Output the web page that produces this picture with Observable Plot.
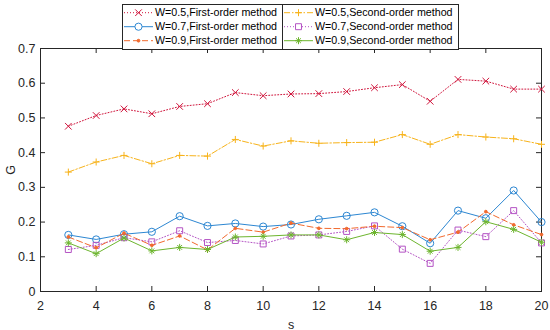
<!DOCTYPE html>
<html>
<head>
<meta charset="utf-8">
<script src="https://cdn.jsdelivr.net/npm/d3@7"></script>
<script src="https://cdn.jsdelivr.net/npm/@observablehq/plot@0.6"></script>
<style>
  body { margin: 0; background: #fff; }
  #wrap { position: relative; width: 550px; height: 330px; font-family: Arial, "Liberation Sans", sans-serif; }
  #legend { position: absolute; left: 122px; top: 4px; }
</style>
</head>
<body>
<div id="wrap"></div>
<script>
// ---- data ----
const sValues = [3, 4, 5, 6, 7, 8, 9, 10, 11, 12, 13, 14, 15, 16, 17, 18, 19, 20];
const w05First  = [0.476, 0.507, 0.526, 0.512, 0.533, 0.541, 0.573, 0.564, 0.569, 0.570, 0.576, 0.587, 0.596, 0.548, 0.611, 0.606, 0.583, 0.583];
const w05Second = [0.344, 0.373, 0.392, 0.368, 0.392, 0.390, 0.438, 0.419, 0.434, 0.427, 0.429, 0.430, 0.452, 0.424, 0.452, 0.445, 0.440, 0.424];
const w07First  = [0.163, 0.150, 0.165, 0.172, 0.217, 0.189, 0.196, 0.187, 0.193, 0.208, 0.218, 0.228, 0.188, 0.139, 0.233, 0.211, 0.291, 0.200];
const w07Second = [0.121, 0.133, 0.155, 0.143, 0.175, 0.141, 0.147, 0.137, 0.160, 0.163, 0.173, 0.189, 0.122, 0.081, 0.177, 0.158, 0.233, 0.140];
const w09First  = [0.157, 0.126, 0.168, 0.133, 0.160, 0.120, 0.182, 0.171, 0.197, 0.182, 0.181, 0.188, 0.184, 0.149, 0.171, 0.230, 0.192, 0.164];
const w09Second = [0.140, 0.109, 0.154, 0.117, 0.127, 0.121, 0.157, 0.159, 0.163, 0.163, 0.149, 0.170, 0.164, 0.116, 0.127, 0.201, 0.179, 0.142];
const seriesNames = [
  "W=0.5,First-order method", "W=0.5,Second-order method",
  "W=0.7,First-order method", "W=0.7,Second-order method",
  "W=0.9,First-order method", "W=0.9,Second-order method"
];
const seriesValues = [w05First, w05Second, w07First, w07Second, w09First, w09Second];
const xTicks = [2, 4, 6, 8, 10, 12, 14, 16, 18, 20];
const yTicks = [0, 0.1, 0.2, 0.3, 0.4, 0.5, 0.6, 0.7];

// ---- styles ----
const styles = [
  {color: "#D0153C", dash: "1,2",       marks: [{symbol: "times", r: 3.1}]},
  {color: "#F7B31B", dash: "6,2,1.5,2", marks: [{symbol: "plus", r: 2.4}]},
  {color: "#2D87D2", dash: null,        marks: [{symbol: "circle", r: 3.6}]},
  {color: "#B453C4", dash: "1,2",       marks: [{symbol: "square2", r: 3.8}]},
  {color: "#F26A2E", dash: "6,3",       marks: [{symbol: "circle", r: 1.4, fill: true}]},
  {color: "#6DB52E", dash: null,        marks: [{symbol: "plus", r: 2.4}, {symbol: "times", r: 2.3}]}
];

const table = seriesNames.flatMap((name, i) =>
  sValues.map((s, j) => ({series: name, idx: i, s, G: seriesValues[i][j]})));

const W = 550, H = 330, mL = 40, mR = 9, mT = 48, mB = 39;
const plotW = W - mL - mR, plotH = H - mT - mB, tick = 5;
const axisColor = "#262626";

const marks = [];
seriesNames.forEach((name, i) => {
  const st = styles[i];
  const d = table.filter(r => r.idx === i);
  marks.push(Plot.line(d, {x: "s", y: "G", stroke: st.color, strokeWidth: 1, strokeDasharray: st.dash}));
  st.marks.forEach(m => {
    marks.push(Plot.dot(d, {x: "s", y: "G", symbol: m.symbol, r: m.r, stroke: st.color,
      fill: m.fill ? st.color : "none", strokeWidth: 1}));
  });
});

const chart = Plot.plot({
  width: W, height: H,
  marginLeft: mL, marginRight: mR, marginTop: mT, marginBottom: mB,
  style: {fontFamily: "Arial, 'Liberation Sans', sans-serif", color: axisColor, background: "#fff"},
  x: {domain: [2, 20]},
  y: {domain: [0, 0.7]},
  marks: [
    Plot.frame({stroke: axisColor, strokeWidth: 1}),
    // inward tick marks on all four sides
    Plot.ruleX(xTicks, {x: d => d, insetTop: plotH - tick, stroke: axisColor}),
    Plot.ruleX(xTicks, {x: d => d, insetBottom: plotH - tick, stroke: axisColor}),
    Plot.ruleY(yTicks, {y: d => d, insetRight: plotW - tick, stroke: axisColor}),
    Plot.ruleY(yTicks, {y: d => d, insetLeft: plotW - tick, stroke: axisColor}),
    Plot.axisX({ticks: xTicks, tickSize: 0, tickPadding: 10, fontSize: 12.5,
      label: "s", labelArrow: "none", labelAnchor: "center", labelOffset: 37, fill: axisColor}),
    Plot.axisY({ticks: yTicks, tickSize: 0, tickPadding: 5, fontSize: 12.5,
      tickFormat: d => String(+d.toFixed(2)),
      label: "G", labelArrow: "none", labelAnchor: "center", labelOffset: 34, fill: axisColor}),
    ...marks
  ]
});
document.getElementById("wrap").appendChild(chart);

// ---- legend (HTML overlay, MATLAB-like box) ----
const lw = 337, lh = 46;
const leg = d3.select("#wrap").append("svg").attr("id", "legend")
  .attr("width", lw).attr("height", lh);
leg.append("rect").attr("x", 0.5).attr("y", 0.5).attr("width", lw - 1).attr("height", lh - 1)
  .attr("fill", "#fff").attr("stroke", axisColor).attr("stroke-width", 1);
leg.append("line").attr("x1", 160.5).attr("x2", 160.5).attr("y1", 0.5).attr("y2", lh - 0.5)
  .attr("stroke", axisColor).attr("stroke-width", 1);
const symMap = {times: d3.symbolTimes, plus: d3.symbolPlus, circle: d3.symbolCircle, square2: d3.symbolSquare2};
seriesNames.forEach((name, i) => {
  const col = i % 2, row = Math.floor(i / 2);
  const x0 = col === 0 ? 2 : 162, y0 = 8.7 + row * 14;
  const g = leg.append("g").attr("transform", `translate(${x0},${y0})`);
  const st = styles[i];
  g.append("line").attr("x1", 0).attr("x2", 29).attr("y1", 0).attr("y2", 0)
    .attr("stroke", st.color).attr("stroke-width", 1).attr("stroke-dasharray", st.dash);
  st.marks.forEach(m => {
    g.append("path").attr("transform", "translate(14.5,0)")
      .attr("d", d3.symbol(symMap[m.symbol], Math.PI * m.r * m.r)())
      .attr("fill", m.fill ? st.color : "#fff").attr("stroke", st.color).attr("stroke-width", 1);
  });
  g.append("text").attr("x", 31).attr("y", 0).attr("dy", "0.35em")
    .attr("font-size", 10.7).attr("fill", "#000")
    .attr("font-family", "Arial, 'Liberation Sans', sans-serif").text(name);
});
</script>
</body>
</html>
